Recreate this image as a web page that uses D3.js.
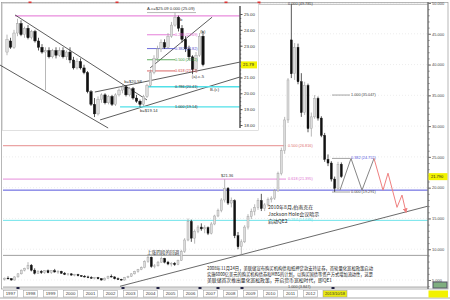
<!DOCTYPE html>
<html lang="zh-CN">
<head>
  <meta charset="utf-8">
  <title>白银长期走势</title>
  <script src="https://cdn.jsdelivr.net/npm/d3@7"></script>
  <style>
    body { margin: 0; background: #fff; }
    svg text { font-family: "Liberation Sans", "DejaVu Sans", sans-serif; fill: #333; }
    svg text.cjk { font-family: "Noto Sans CJK SC", sans-serif; }
  </style>
</head>
<body>
<div id="chart"></div>
<script>
"use strict"
// ---- main chart: bi-monthly candles from 1997, [open, high, low, close]
var mainCandles = [
  [5.1,5.4,4.9,5.3],[5.3,5.6,5.1,5.2],[5.2,5.3,4.9,5.0],[5.0,5.6,4.9,5.5],[5.5,6.1,5.4,6.0],
  [6.0,6.7,5.9,6.6],[6.6,7.0,6.4,6.9],[6.9,7.9,6.7,7.4],[7.4,7.6,6.4,6.6],[6.6,6.9,5.9,6.1],
  [6.1,6.6,6.0,6.4],[6.4,6.6,6.0,6.2],[6.2,6.6,6.0,6.5],[6.5,6.7,6.1,6.2],[6.2,6.6,6.0,6.5],
  [6.5,6.8,6.2,6.3],[6.3,6.6,6.0,6.4],[6.4,6.5,6.0,6.1],[6.1,6.3,5.8,5.9],[5.9,6.1,5.7,6.0],
  [6.0,6.1,5.7,5.8],[5.8,6.0,5.6,5.9],[5.9,6.0,5.6,5.7],[5.7,5.8,5.5,5.6],[5.6,5.8,5.4,5.5],
  [5.5,5.7,5.3,5.4],[5.4,5.6,5.2,5.3],[5.3,5.5,5.1,5.4],[5.4,5.5,5.1,5.2],[5.2,5.3,4.9,5.0],
  [5.0,5.4,4.9,5.3],[5.3,5.7,5.2,5.6],[5.6,5.9,5.4,5.5],[5.5,5.6,5.1,5.2],[5.2,5.4,5.0,5.1],
  [5.1,5.2,4.9,5.0],[5.0,5.5,4.9,5.4],[5.4,5.7,5.3,5.6],[5.6,6.1,5.5,6.0],[6.0,6.5,5.9,6.4],
  [6.4,6.8,6.2,6.7],[6.7,7.2,6.6,7.0],[7.0,8.2,6.9,8.0],[8.0,9.0,7.8,8.7],[8.7,8.8,7.0,7.2],
  [7.2,7.6,6.9,7.3],[7.3,8.1,7.2,7.9],[7.9,8.8,7.8,8.5],[8.5,8.6,7.7,7.9],[7.9,8.1,7.4,7.6],
  [7.6,7.9,7.2,7.7],[7.7,7.9,7.3,7.5],[7.5,8.3,7.4,8.2],[8.2,9.9,8.1,9.6],[9.6,11.8,9.4,11.5],
  [11.5,15.0,11.3,14.5],[14.5,14.8,11.2,11.8],[11.8,13.2,10.9,12.9],[12.9,13.9,12.6,13.6],[13.6,14.2,13.0,13.3],
  [13.3,13.9,12.6,13.5],[13.5,13.7,12.3,12.6],[12.6,14.4,12.4,14.1],[14.1,15.6,13.9,15.4],[15.4,16.6,15.2,16.3],
  [16.3,18.3,16.0,18.0],[18.0,21.36,17.6,19.9],[19.9,20.1,17.2,17.5],[17.5,18.4,16.8,17.9],[17.9,18.1,11.8,12.2],
  [12.2,12.8,10.0,10.4],[10.4,11.6,9.0,11.2],[11.2,13.9,11.0,13.6],[13.6,15.7,13.2,15.3],[15.3,16.6,14.9,16.1],
  [16.1,17.3,15.5,16.8],[16.8,18.3,16.4,17.9],[17.9,19.0,16.2,16.6],[16.6,17.5,16.2,17.2],[17.2,18.4,16.9,18.1],
  [18.1,18.6,17.6,18.3],[18.3,19.8,18.0,19.5],[19.5,22.6,19.3,22.3],[22.3,26.5,22.0,26.0],[26.0,31.5,25.5,31.0],
  [31.0,37.8,30.5,37.5],[44.0,49.785,37.8,38.5],[38.5,43.5,37.5,42.8],[42.8,43.4,36.8,37.2],[37.2,38.6,31.5,32.2],
  [32.2,37.2,31.8,36.6],[36.6,36.9,29.0,29.6],[29.6,32.2,28.3,31.5],[31.5,35.047,31.2,34.5],[34.5,34.8,30.9,31.3],
  [31.3,31.6,28.2,28.5],[28.5,28.9,24.2,24.6],[24.6,25.4,23.5,24.0],[24.0,24.3,21.0,21.4],[21.4,21.8,19.291,19.9],
  [19.9,24.2,19.6,23.8],[23.8,24.1,21.6,21.8]
];
var mainStartYear = 1997;
var candlesPerYear = 6;
var years = d3.range(1997, 2013);
var rightTicks = [5, 10, 15, 20, 25, 30, 35, 40, 45, 50];
var lastPrice = 21.79;
var lastDateLabel = "2013/10/18";

// long-term fib levels (whole-width or ending at label)
var mainLevelValues = [49.785, 26.816, 21.395, 19.6, 14.688, 9.0, 3.847];
var mainLevelLabels = ["0.000 (49.785)", "0.500 (26.816)", "0.618 (21.395)", "", "0.764 (14.688)", "", "1.000 (3.847)"];
// 2011-2012 fib levels
var dropLevelValues = [35.047, 24.752, 19.291];
var dropLevelLabels = ["1.000 (35.047)", "0.382 (24.752)", "0.000 (19.291)"];

var mainTrend = [[2002.85, 3.98], [2018.25, 17.0]];
var zigGray = [[2013.85, 19.6], [2014.4, 24.75], [2014.95, 19.6], [2015.55, 24.75]];
var zigRed = [[2015.55, 24.75], [2016.0, 19.6], [2016.25, 22.35], [2016.7, 16.8], [2016.95, 18.8], [2017.15, 16.0]];
var bottomMarks = [1997.75, 2003.0, 2004.75, 2006.85, 2007.75, 2008.95, 2013.5];
var topMarks = [1998.35, 2002.7, 2008.15, 2009.8];

var noteQE2 = ["2010年8月,伯南克在", "Jackson Hole会议暗示", "启动QE2"];
var noteQE1 = [
  "2008年11月24日，美联储宣布购买机构债和抵押贷款支持证券，首轮量化宽松政策启动",
  "实施6000亿美元的购买机构债券和MBS的计划，以购买国债等资产方式增加流动性，这是",
  "美联储首次推出量化宽松政策，开启货币宽松时代，即QE1"
];
var noteWave4 = "上涨四段的回调";

// ---- inset: 2006-2008 candles
var insetCandles = [
  [22.6,23.7,22.4,23.4],[23.3,23.5,22.8,22.9],[22.9,24.0,22.8,23.8],[23.8,24.7,23.6,24.4],[24.4,24.6,23.6,23.7],
  [23.7,24.2,23.5,24.1],[24.1,24.3,23.4,23.5],[23.5,24.0,23.4,23.9],[23.9,24.0,23.2,23.3],[23.3,23.5,22.7,22.9],
  [22.9,23.1,22.5,22.6],[22.6,22.9,20.2,22.7],[22.7,22.9,22.2,22.3],[22.3,22.8,22.2,22.7],[22.7,22.9,22.2,22.4],
  [22.4,22.9,22.3,22.7],[22.7,22.9,22.2,22.3],[22.3,22.7,22.1,22.6],[22.6,22.9,21.9,22.1],[22.1,22.3,21.5,21.6],
  [21.6,22.2,21.5,22.0],[22.0,22.2,21.5,21.6],[21.6,21.8,21.2,21.3],[21.3,21.4,20.0,20.1],[20.1,20.2,19.2,19.3],
  [19.3,19.7,18.5,18.7],[18.7,19.8,18.6,19.6],[19.6,20.0,19.4,19.9],[19.9,20.0,19.3,19.4],[19.4,19.9,19.3,19.8],
  [19.8,19.9,19.2,19.3],[19.3,20.0,19.2,19.9],[19.9,20.3,19.8,20.2],[20.2,20.58,20.0,20.4],[20.4,20.5,19.8,19.9],
  [19.9,20.4,19.8,20.3],[20.3,20.4,19.6,19.7],[19.7,19.9,19.4,19.5],[19.5,19.6,19.14,19.3],[19.3,19.9,19.2,19.8],
  [19.8,20.6,19.7,20.5],[20.5,21.5,20.4,21.3],[21.3,22.4,21.2,22.2],[22.2,23.0,22.0,22.8],[22.8,23.4,22.6,23.2],
  [23.2,23.4,22.8,22.9],[22.9,23.8,22.8,23.6],[23.6,24.5,23.5,24.3],[24.3,25.09,24.2,24.8],[24.8,24.9,23.9,24.1],
  [24.1,24.3,23.2,23.4],[23.4,23.6,22.6,22.8],[22.8,23.0,22.1,22.3],[22.3,22.4,21.2,21.5],[21.5,22.6,21.3,22.4],
  [22.4,23.8,22.3,23.6],[23.6,23.9,21.7,21.8]
];
var insetTicks = [18, 19, 20, 21, 23, 24, 25];
var insetFibValues = [23.69, 22.82, 22.115, 21.41, 20.41, 19.14];
var insetFibLabels = ["0.236 (23.69)", "0.382 (22.82)", "0.500 (22.12)", "0.618 (21.41)", "0.786 (20.41)", "1.000 (19.14)"];
var insetTopValue = 24.88;
var insetA = 25.09;
var insetLast = 21.79;
var insetTrends = [
  [[2.3, 24.94], [40, 19.58]],
  [[-2, 21.78], [28.9, 17.81]],
  [[26.6, 18.32], [66.6, 21.03]],
  [[25.1, 20.08], [66.6, 21.97]],
  [[40.9, 21.6], [58.6, 24.8]]
];
// inset text notes: [candle index, value, text]
var insetNotes = [
  [33.5, 20.75, "b=$20.58"], [38.0, 18.9, "b=$19.14"], [52.8, 21.05, "(a)-c-5"],
  [58, 20.2, "B-(c)"], [49.4, 24.6, "b"], [55.2, 23.9, "(b)"]
];

// ================= drawing
var svg = d3.select('#chart').append('svg').attr('width', 450).attr('height', 300);

var x = d3.scaleLinear().domain([1997, 2018.25]).range([3, 428]);
var y = d3.scaleLinear().domain([5, 50]).range([280, 3]);
var dateOf = i => mainStartYear + (i + 0.5) / candlesPerYear;

function candles(g, rows, xPos, yS, bw) {
  var c = g.append('g').selectAll('g').data(rows).join('g');
  c.append('line')
    .attr('x1', (d, i) => xPos(i)).attr('x2', (d, i) => xPos(i))
    .attr('y1', d => yS(d[1])).attr('y2', d => yS(d[2]))
    .attr('stroke', d => d[3] >= d[0] ? '#999' : '#111').attr('stroke-width', 0.7);
  c.append('rect')
    .attr('x', (d, i) => xPos(i) - bw / 2).attr('width', bw)
    .attr('y', d => yS(Math.max(d[0], d[3])))
    .attr('height', d => Math.max(0.7, Math.abs(yS(d[0]) - yS(d[3]))))
    .attr('fill', d => d[3] >= d[0] ? '#dcdcdc' : '#111')
    .attr('stroke', d => d[3] >= d[0] ? '#999' : '#111').attr('stroke-width', 0.4);
}
function smallText(g, tx, ty, str, size, color) {
  return g.append('text').attr('x', tx).attr('y', ty).attr('font-size', size)
    .attr('dominant-baseline', 'middle').style('fill', color || '#333').text(str);
}

// grid
svg.append('g').selectAll('line').data(rightTicks).join('line')
  .attr('x1', 3).attr('x2', 428).attr('y1', d => y(d)).attr('y2', d => y(d))
  .attr('stroke', '#ddd').attr('stroke-width', 0.5).attr('stroke-dasharray', '1,2');

// frame
svg.append('rect').attr('x', 1.5).attr('y', 2.5).attr('width', 446.5).attr('height', 286.5)
  .attr('fill', 'none').attr('stroke', '#999').attr('stroke-width', 0.7);

// main horizontal levels
var levelColors = ['#aaa', '#e07070', '#e070d0', '#5555dd', '#70e4ea', '#888', '#888'];
var levelEnds = [2018.25, 2011.15, 2011.15, 2018.25, 2018.25, 2018.25, 2018.25];
var lv = svg.append('g');
mainLevelValues.forEach(function (v, k) {
  lv.append('line').attr('x1', 3).attr('x2', x(levelEnds[k])).attr('y1', y(v)).attr('y2', y(v))
    .attr('stroke', levelColors[k]).attr('stroke-width', k == 3 || k == 4 ? 1 : 0.8);
  if (mainLevelLabels[k]) smallText(lv, x(2011.25), y(v), mainLevelLabels[k], 3.8,
    k == 0 || k == 6 ? '#444' : levelColors[k]);
});
smallText(svg, x(2004.2), y(9.0) - 3, noteWave4, 4.6, '#222').attr('class', 'cjk');

// trend line and candles
svg.append('line').attr('x1', x(mainTrend[0][0])).attr('y1', y(mainTrend[0][1]))
  .attr('x2', x(mainTrend[1][0])).attr('y2', y(mainTrend[1][1])).attr('stroke', '#444').attr('stroke-width', 0.8);
candles(svg, mainCandles, i => x(dateOf(i)), y, 2);

// 2011-2012 fib
var dropColors = ['#444', '#5555dd', '#444'];
dropLevelValues.forEach(function (v, k) {
  svg.append('line').attr('x1', x(2013.45)).attr('x2', x(2014.35)).attr('y1', y(v)).attr('y2', y(v))
    .attr('stroke', '#666').attr('stroke-width', 0.6);
  smallText(svg, x(2014.4), y(v), dropLevelLabels[k], 3.8, dropColors[k]);
});
smallText(svg, x(2008.15) - 5, y(21.36) - 3, "$21.36", 4, '#333');

// projection zigzag
svg.append('defs').append('marker').attr('id', 'arr').attr('viewBox', '0 0 10 10')
  .attr('refX', 8).attr('refY', 5).attr('markerWidth', 5).attr('markerHeight', 5).attr('orient', 'auto')
  .append('path').attr('d', 'M0,0L10,5L0,10z').attr('fill', '#ef8080');
var zl = d3.line().x(d => x(d[0])).y(d => y(d[1]));
svg.append('path').attr('d', zl(zigGray)).attr('fill', 'none').attr('stroke', '#777').attr('stroke-width', 0.9);
svg.append('path').attr('d', zl(zigRed)).attr('fill', 'none').attr('stroke', '#ef8080').attr('stroke-width', 1)
  .attr('marker-end', 'url(#arr)');

// notes
var n2 = svg.append('g');
noteQE2.forEach((t, k) => smallText(n2, x(2010.25), y(16.7) + k * 7, t, 5, '#222').attr('class', 'cjk'));
noteQE1.forEach((t, k) => smallText(svg, x(2007.2), y(6.9) + k * 6, t, 5, '#222')
  .attr('class', 'cjk').attr('textLength', k == 2 ? 125 : 166).attr('lengthAdjust', 'spacingAndGlyphs'));

// markers
svg.append('g').selectAll('rect').data(bottomMarks).join('rect')
  .attr('x', d => x(d) - 1.5).attr('y', 287).attr('width', 3).attr('height', 2).attr('fill', '#224');
svg.append('g').selectAll('rect').data(topMarks).join('rect')
  .attr('x', d => x(d) - 1.5).attr('y', 1.5).attr('width', 3).attr('height', 2).attr('fill', '#d33');

// right axis
var ra = svg.append('g').attr('transform', 'translate(428,0)');
ra.call(d3.axisRight(y).tickValues(rightTicks).tickFormat(d3.format('.3f')).tickSize(3).tickPadding(1));
ra.append('g').call(d3.axisRight(y).tickValues(d3.range(4, 51, 1)).tickFormat('').tickSize(1.5));
ra.selectAll('path.domain').attr('stroke', '#777').attr('d', 'M0,2V289');
ra.selectAll('line').attr('stroke', '#777');
ra.selectAll('text').attr('font-size', 4).style('fill', '#444');
svg.append('rect').attr('x', 428.5).attr('y', y(lastPrice) - 3.5).attr('width', 19).attr('height', 7).attr('fill', '#f2f200');
smallText(svg, 431, y(lastPrice), d3.format('.3f')(lastPrice), 4, '#222');
svg.append('rect').attr('x', 433).attr('y', 282).attr('width', 14).attr('height', 6).attr('fill', '#7fae7f').attr('stroke', '#556');

// x axis band
svg.append('line').attr('x1', 0).attr('x2', 450).attr('y1', 298).attr('y2', 298).attr('stroke', '#aaa');
var xb = svg.append('g').selectAll('g').data(years).join('g');
xb.append('rect').attr('x', d => x(d) + 0.5).attr('y', 290.5).attr('width', 14).attr('height', 6.5)
  .attr('fill', '#fff').attr('stroke', '#999').attr('stroke-width', 0.5);
xb.append('text').attr('x', d => x(d) + 7.5).attr('y', 294).attr('font-size', 4.3).attr('text-anchor', 'middle')
  .attr('dominant-baseline', 'middle').text(d => d);
svg.append('rect').attr('x', x(2013)).attr('y', 290.5).attr('width', 24).attr('height', 6.5).attr('fill', '#eaea10').attr('stroke', '#999').attr('stroke-width', 0.5);
svg.append('text').attr('x', x(2013) + 12).attr('y', 294).attr('font-size', 4).attr('text-anchor', 'middle')
  .attr('dominant-baseline', 'middle').text(lastDateLabel);
svg.append('rect').attr('x', 428.5).attr('y', 290.5).attr('width', 19.5).attr('height', 7).attr('fill', '#f2f200');

// ================= inset
var ins = svg.append('g');
ins.append('rect').attr('x', 2.5).attr('y', 3.5).attr('width', 256).attr('height', 127)
  .attr('fill', '#fff').attr('stroke', '#ccc').attr('stroke-width', 0.6);
var ix = d3.scaleLinear().domain([0, insetCandles.length - 1]).range([7, 203]);
var iy = d3.scaleLinear().domain([18, 25]).range([125, 14]);
var iAxis = ix.invert(240);

ins.append('line').attr('x1', ix(2.3)).attr('x2', ix(iAxis)).attr('y1', iy(insetTopValue)).attr('y2', iy(insetTopValue))
  .attr('stroke', '#e060d0').attr('stroke-width', 0.9);
ins.append('line').attr('x1', ix(40)).attr('x2', ix(54)).attr('y1', iy(insetA)).attr('y2', iy(insetA))
  .attr('stroke', '#888').attr('stroke-width', 0.6);
smallText(ins, ix(40), iy(insetA) - 3.5, "A-c=$25.09  0.000 (25.09)", 4.2, '#333');

insetTrends.forEach(function (t) {
  ins.append('line').attr('x1', ix(t[0][0])).attr('y1', iy(t[0][1])).attr('x2', ix(t[1][0])).attr('y2', iy(t[1][1]))
    .attr('stroke', '#333').attr('stroke-width', 0.8);
});
var fibColors = ['#e060d0', '#4a4ad0', '#3a9a3a', '#d04040', '#50e0e8', '#50e0e8'];
var fibStart = [40, 40, 40, 40, 40, 32.3];
var fibEnd = [48, 48, 48, 48, iAxis, iAxis];
insetFibValues.forEach(function (v, k) {
  ins.append('line').attr('x1', ix(fibStart[k])).attr('x2', ix(fibEnd[k])).attr('y1', iy(v)).attr('y2', iy(v))
    .attr('stroke', fibColors[k]).attr('stroke-width', k > 3 ? 1.4 : 0.8);
});
candles(ins, insetCandles, ix, iy, 2.4);
insetFibValues.forEach(function (v, k) {
  smallText(ins, ix(48), iy(v), insetFibLabels[k], 3.8, k > 3 ? '#333' : fibColors[k]);
});
insetNotes.forEach(n => smallText(ins, ix(n[0]), iy(n[1]), n[2], 4.2, '#333'));

var ia = ins.append('g').attr('transform', 'translate(240,0)');
ia.call(d3.axisRight(iy).tickValues(insetTicks).tickFormat(d3.format('.2f')).tickSize(2.5).tickPadding(1.5));
ia.append('g').call(d3.axisRight(iy).tickValues(d3.range(18, 25.01, 0.25)).tickFormat('').tickSize(1.2));
ia.selectAll('path.domain').attr('stroke', '#555').attr('d', 'M0,6V128');
ia.selectAll('line').attr('stroke', '#555');
ia.selectAll('text').attr('font-size', 4.4).style('fill', '#333');
ins.append('rect').attr('x', 241).attr('y', iy(insetLast) - 3.5).attr('width', 16).attr('height', 7).attr('fill', '#f2f200');
smallText(ins, 243, iy(insetLast), d3.format('.2f')(insetLast), 4.4, '#222');
</script>
</body>
</html>
